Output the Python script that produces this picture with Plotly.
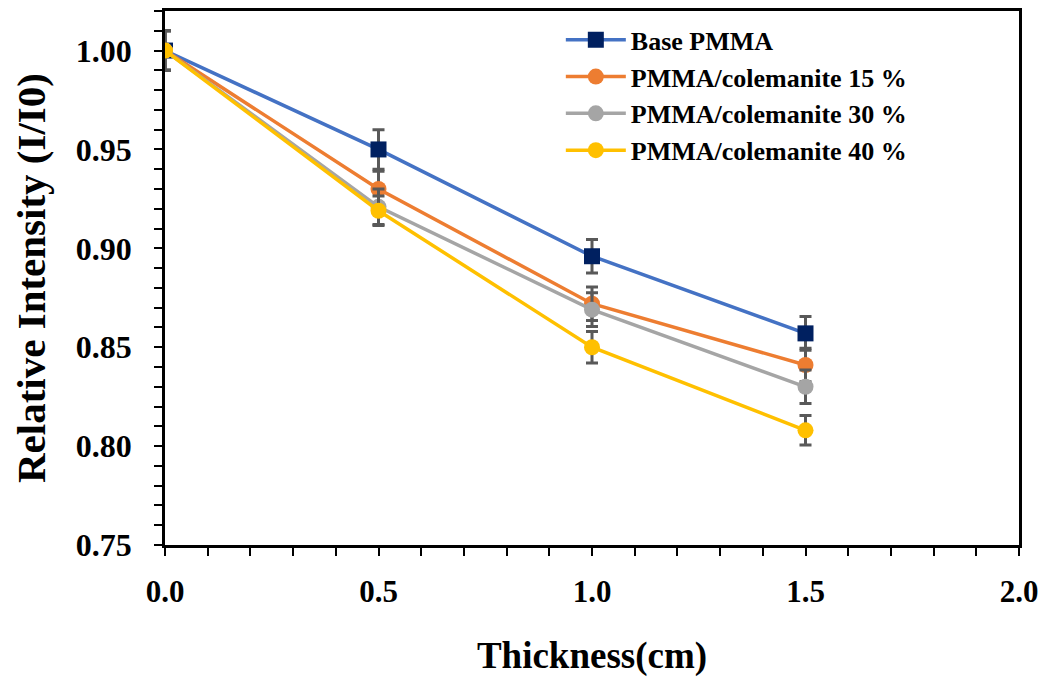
import plotly.graph_objects as go

thickness = [0.0, 0.5, 1.0, 1.5]

series_names = ["Base PMMA", "PMMA/colemanite 15 %", "PMMA/colemanite 30 %", "PMMA/colemanite 40 %"]
base_pmma = [1.000, 0.950, 0.896, 0.857]
col_15 = [1.000, 0.930, 0.872, 0.841]
col_30 = [1.000, 0.921, 0.869, 0.830]
col_40 = [1.000, 0.919, 0.850, 0.808]

err_base = [0.010, 0.010, 0.0085, 0.0085]
err_15 = [0.010, 0.009, 0.0085, 0.0085]
err_30 = [0.010, 0.009, 0.0085, 0.0085]
err_40 = [0.010, 0.0075, 0.008, 0.0075]

x_ticks = [0.0, 0.5, 1.0, 1.5, 2.0]
x_tick_labels = ["0.0", "0.5", "1.0", "1.5", "2.0"]
y_ticks = [0.75, 0.80, 0.85, 0.90, 0.95, 1.00]
y_tick_labels = ["0.75", "0.80", "0.85", "0.90", "0.95", "1.00"]

FONT = "Liberation Serif, Times New Roman, serif"

styles = [
    dict(line="#4472C4", marker="#002060", symbol="square", size=16),
    dict(line="#ED7D31", marker="#ED7D31", symbol="circle", size=16),
    dict(line="#A5A5A5", marker="#A5A5A5", symbol="circle", size=16),
    dict(line="#FFC000", marker="#FFC000", symbol="circle", size=16),
]
values = [base_pmma, col_15, col_30, col_40]
errors = [err_base, err_15, err_30, err_40]

fig = go.Figure()
for i, (name, vals, errs, st) in enumerate(zip(series_names, values, errors, styles)):
    fig.add_trace(go.Scatter(
        x=thickness, y=vals, name=name, mode="lines+markers",
        legendgroup=f"g{i}",
        line=dict(color=st["line"], width=3.5),
        marker=dict(color=st["marker"], symbol=st["symbol"], size=st["size"],
                    line=dict(width=0)),
        error_y=dict(type="data", array=errs, visible=True,
                     color="#595959", thickness=3, width=6),
    ))

fig.update_layout(
    width=1053, height=682,
    margin=dict(l=157, r=42, t=0, b=145),
    paper_bgcolor="white", plot_bgcolor="white",
    font=dict(family=FONT, color="black"),
    showlegend=True,
    legend=dict(
        x=0.4635, y=0.99, xanchor="left", yanchor="top",
        font=dict(family=FONT, size=26, color="black", weight="bold"),
        bgcolor="rgba(0,0,0,0)", itemwidth=60, tracegroupgap=0,
    ),
    xaxis=dict(
        range=[0, 2.0], tickvals=x_ticks, ticktext=x_tick_labels,
        showgrid=False, zeroline=False,
        showline=True, linecolor="black", linewidth=2.5, mirror=True,
        ticks="outside", ticklen=8, tickwidth=2, tickcolor="black",
        minor=dict(dtick=0.1, ticks="outside", ticklen=8, tickwidth=2, tickcolor="black", showgrid=False),
        tickfont=dict(family=FONT, size=31, color="black", weight="bold"),
        ticklabelstandoff=9,
        title=dict(text="Thickness(cm)", font=dict(family=FONT, size=37, color="black", weight="bold"), standoff=35),
    ),
    yaxis=dict(
        range=[0.75, 1.02], tickvals=y_ticks, ticktext=y_tick_labels,
        showgrid=False, zeroline=False,
        showline=True, linecolor="black", linewidth=2.5, mirror=True,
        ticks="outside", ticklen=8, tickwidth=2, tickcolor="black",
        minor=dict(dtick=0.01, ticks="outside", ticklen=8, tickwidth=2, tickcolor="black", showgrid=False),
        tickfont=dict(family=FONT, size=32, color="black", weight="bold"),
        ticklabelstandoff=16,
        title=dict(text="Relative Intensity (I/I0)", font=dict(family=FONT, size=41, color="black", weight="bold"), standoff=20),
    ),
)

fig.write_html("out.html")
